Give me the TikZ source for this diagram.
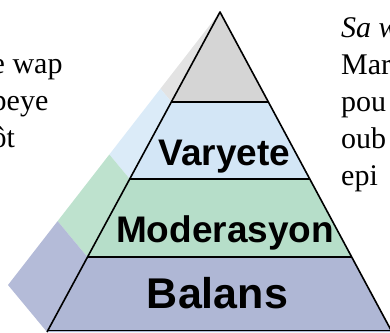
\documentclass[tikz,border=0pt]{standalone}
\usepackage{fontspec}
\setmainfont{Liberation Serif}
\newfontfamily\labelfont{Liberation Sans}
\usetikzlibrary{calc,positioning}
\definecolor{topfront}{HTML}{D5D5D5}
\definecolor{topside}{HTML}{E3E3E3}
\definecolor{varfront}{HTML}{D3E6F6}
\definecolor{varside}{HTML}{DBEBF8}
\definecolor{modfront}{HTML}{B6DEC9}
\definecolor{modside}{HTML}{BEE2CE}
\definecolor{balfront}{HTML}{AFB7D5}
\definecolor{balside}{HTML}{B4BBD8}

\begin{document}
\begin{tikzpicture}[x=1pt, y=-1pt,
  band/.style={inner sep=0pt, anchor=base, font=\labelfont\bfseries\fontsize{37}{40}\selectfont},
  prose/.style={inner sep=0pt, font=\fontsize{30}{37}\selectfont},
  edge/.style={line width=1.6pt, line join=round}]
\useasboundingbox (0,0) rectangle (390,332);
\clip (0,0) rectangle (390,332);
\coordinate (apex) at (220,12);
\coordinate (bl) at (47,332);
\coordinate (br) at (392,332);
\coordinate (sl) at (8,285);
% side face and front face, band by band
\foreach \a/\b/\s/\f in {0/0.281/topside/topfront, 0.281/0.522/varside/varfront, 0.522/0.766/modside/modfront, 0.766/1/balside/balfront}{
  \fill[\s] ($(apex)!\a!(sl)$) -- ($(apex)!\b!(sl)$) -- ($(apex)!\b!(bl)$) -- ($(apex)!\a!(bl)$) -- cycle;
  \fill[\f] ($(apex)!\a!(bl)$) -- ($(apex)!\b!(bl)$) -- ($(apex)!\b!(br)$) -- ($(apex)!\a!(br)$) -- cycle;
}
\foreach \t in {0.281,0.522,0.766,0.995}
  \draw[edge] ($(apex)!\t!(bl)$) -- ($(apex)!\t!(br)$);
\draw[edge] (bl) -- (apex) -- (br);
% labels
\node[band] (varyete) at (224.5,165) {Varyete};
\node[band] (moderasyon) at (225,242) {Moderasyon};
\node[band, font=\labelfont\bfseries\fontsize{43}{46}\selectfont] (balans) at (217.5,308) {Balans};
% text round the pyramid
\foreach \txt [count=\i] in {e wap, peye, ôt}
  \node[prose, anchor=base west] (left\i) at (-8.5,36+37*\i) {\txt};
\foreach \txt [count=\i] in {{\itshape Sa w}, Mar, pou, oub, epi}
  \node[prose, anchor=base west] (right\i) at (341,37*\i) {\txt};
\end{tikzpicture}
\end{document}
